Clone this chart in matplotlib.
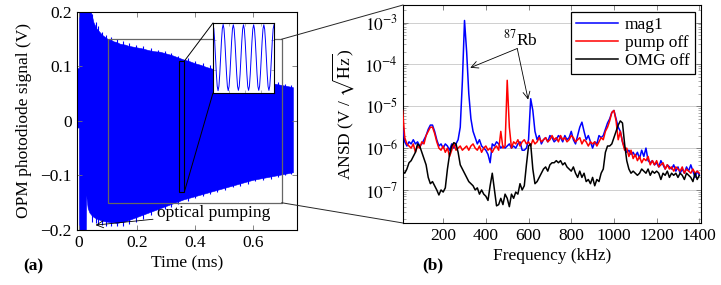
import numpy as np
import matplotlib
matplotlib.use("Agg")
import matplotlib.pyplot as plt
from matplotlib.patches import Rectangle, ConnectionPatch
from matplotlib.ticker import FixedLocator, FixedFormatter, LogLocator, NullFormatter

plt.rcParams['font.family'] = ['Liberation Serif', 'DejaVu Serif']
plt.rcParams['mathtext.fontset'] = 'stix'
plt.rcParams['font.size'] = 12.5

# ── (a) time-domain signal: envelope of the dense oscillation ────────────────
env_t = [-0.008, -0.0005, 0.0, 0.023, 0.0245, 0.03, 0.036, 0.042, 0.05, 0.06,
         0.07, 0.08, 0.09, 0.10, 0.11, 0.12, 0.13, 0.14, 0.15, 0.16,
         0.17, 0.18, 0.19, 0.20, 0.22, 0.24, 0.26, 0.28, 0.30, 0.32,
         0.34, 0.36, 0.38, 0.40, 0.42, 0.44, 0.46, 0.48, 0.50, 0.52,
         0.54, 0.56, 0.58, 0.60, 0.62, 0.64, 0.66, 0.68, 0.70, 0.72, 0.739]
env_hi = [0.097, 0.097, 0.25, 0.25, 0.25, 0.25, 0.25, 0.198, 0.181, 0.170,
          0.164, 0.158, 0.154, 0.150, 0.149, 0.146, 0.145, 0.142, 0.141, 0.140,
          0.138, 0.137, 0.136, 0.135, 0.133, 0.130, 0.128, 0.127, 0.124, 0.121,
          0.117, 0.113, 0.110, 0.106, 0.103, 0.099, 0.096, 0.092, 0.088, 0.086,
          0.083, 0.081, 0.079, 0.077, 0.075, 0.072, 0.070, 0.068, 0.066, 0.064, 0.062]
env_lo = [-0.012, -0.012, -0.25, -0.25, -0.136, -0.160, -0.168, -0.172, -0.176, -0.179,
          -0.181, -0.183, -0.184, -0.185, -0.186, -0.186, -0.187, -0.186, -0.185, -0.184,
          -0.182, -0.180, -0.178, -0.176, -0.172, -0.168, -0.164, -0.160, -0.156, -0.152,
          -0.148, -0.144, -0.141, -0.138, -0.135, -0.132, -0.129, -0.126, -0.123, -0.120,
          -0.117, -0.114, -0.111, -0.108, -0.106, -0.104, -0.102, -0.100, -0.098, -0.096, -0.094]

# ragged fringe on both edges (single oscillation peaks poking out)
spike_t = [0.045, 0.058, 0.066, 0.079, 0.094, 0.112, 0.131, 0.152, 0.174, 0.196,
           0.221, 0.248, 0.272, 0.297, 0.318, 0.343, 0.376, 0.402, 0.428, 0.453,
           0.478, 0.505, 0.531, 0.557, 0.583, 0.609, 0.636, 0.662, 0.687, 0.712, 0.733]
spike_hi = [0.196, 0.182, 0.174, 0.164, 0.158, 0.154, 0.150, 0.146, 0.143, 0.140,
            0.137, 0.134, 0.131, 0.128, 0.125, 0.120, 0.115, 0.110, 0.106, 0.102,
            0.097, 0.093, 0.089, 0.086, 0.083, 0.080, 0.077, 0.074, 0.071, 0.068, 0.066]
spike_lo = [-0.185, -0.188, -0.190, -0.191, -0.192, -0.193, -0.193, -0.192, -0.189, -0.185,
            -0.179, -0.173, -0.167, -0.161, -0.157, -0.152, -0.146, -0.142, -0.138, -0.134,
            -0.130, -0.126, -0.122, -0.119, -0.115, -0.111, -0.108, -0.106, -0.103, -0.100, -0.098]

# zoomed inset (0.345 .. 0.364 ms), six periods, samples
inset_sig = [0.105, 0.090, 0.048, -0.009, -0.065, -0.107, -0.122, -0.107, -0.065, -0.009, 0.048, 0.090,
             0.105, 0.090, 0.048, -0.009, -0.065, -0.107, -0.122, -0.107, -0.065, -0.009, 0.048, 0.090,
             0.104, 0.089, 0.047, -0.009, -0.065, -0.107, -0.121, -0.107, -0.065, -0.009, 0.047, 0.089,
             0.104, 0.089, 0.047, -0.009, -0.065, -0.107, -0.121, -0.107, -0.065, -0.009, 0.047, 0.089,
             0.104, 0.089, 0.047, -0.009, -0.065, -0.107, -0.121, -0.107, -0.065, -0.009, 0.047, 0.089,
             0.104, 0.089, 0.047, -0.009, -0.065, -0.107, -0.121, -0.107, -0.065, -0.009, 0.047, 0.089,
             0.104]

# ── (b) spectra, log10(ANSD) on a 10 kHz grid ────────────────────────────────
freq = np.arange(10, 1401, 10)
log_mag1 = [
    -5.5, -5.85, -5.95, -5.85, -5.9, -5.8, -5.9, -5.85, -5.95, -5.9,
    -5.8, -5.7, -5.55, -5.45, -5.45, -5.6, -5.8, -5.95, -5.9, -6.0,
    -5.9, -5.95, -6.05, -5.9, -6.0, -5.9, -5.8, -5.5, -4.4, -2.95,
    -3.7, -4.7, -5.3, -5.6, -5.75, -5.9, -5.8, -5.95, -6.0, -6.05,
    -6.15, -6.35, -5.9, -5.95, -5.85, -5.9, -6.0, -5.95, -6.0, -5.95,
    -5.9, -6.0, -5.95, -6.0, -5.9, -5.85, -6.05, -6.05, -6.0, -5.8,
    -4.82, -5.1, -5.6, -5.8, -5.7, -5.9, -5.8, -5.75, -5.85, -5.7,
    -5.75, -5.85, -5.8, -5.7, -5.75, -5.85, -5.7, -5.8, -5.75, -5.6,
    -5.8, -5.9, -5.7, -5.5, -5.38, -5.6, -5.8, -5.7, -5.85, -6.0,
    -5.85, -5.9, -5.7, -5.75, -5.7, -5.55, -5.4, -5.3, -5.15, -5.1,
    -5.3, -5.5, -5.6, -5.85, -6.0, -6.1, -6.05, -6.15, -6.1, -6.2,
    -6.1, -6.25, -6.05, -6.2, -6.0, -6.3, -6.35, -6.3, -6.4, -6.35,
    -6.45, -6.3, -6.4, -6.5, -6.4, -6.45, -6.5, -6.4, -6.55, -6.45,
    -6.6, -6.5, -6.6, -6.45, -6.55, -6.4, -6.55, -6.7, -6.55, -6.65]
log_pump_off = [
    -5.1, -5.75, -5.9, -5.95, -6.0, -5.9, -6.1, -5.95, -6.0, -5.85,
    -5.9, -5.7, -5.6, -5.5, -5.5, -5.65, -5.85, -6.0, -6.05, -5.95,
    -6.1, -6.0, -6.2, -6.05, -5.9, -6.05, -6.0, -5.95, -6.05, -6.0,
    -5.95, -6.05, -5.95, -5.9, -6.0, -6.05, -5.95, -6.1, -6.0, -5.95,
    -6.05, -6.0, -6.1, -6.0, -5.95, -6.05, -5.6, -6.0, -5.95, -4.38,
    -5.5, -6.0, -5.85, -5.9, -5.8, -5.95, -5.85, -5.8, -5.9, -5.85,
    -5.95, -5.8, -5.9, -5.85, -5.75, -5.85, -5.8, -5.75, -5.85, -5.8,
    -5.7, -5.8, -5.75, -5.85, -5.7, -5.8, -5.75, -5.85, -5.8, -5.7,
    -5.75, -5.85, -5.8, -5.75, -5.9, -5.8, -5.85, -5.95, -5.85, -5.9,
    -5.85, -5.95, -5.85, -5.75, -5.8, -5.6, -5.5, -5.35, -5.15, -5.1,
    -5.35, -5.8, -5.6, -5.85, -6.05, -6.0, -6.2, -6.05, -6.25, -6.15,
    -6.3, -6.2, -6.35, -6.25, -6.3, -6.2, -6.4, -6.3, -6.4, -6.3,
    -6.45, -6.4, -6.35, -6.5, -6.4, -6.5, -6.45, -6.55, -6.45, -6.5,
    -6.55, -6.45, -6.6, -6.5, -6.55, -6.6, -6.5, -6.6, -6.55, -6.6]
log_omg_off = [
    -6.55, -6.6, -6.5, -6.35, -6.3, -6.2, -6.1, -5.9, -5.95, -6.1,
    -6.25, -6.4, -6.7, -6.85, -6.8, -6.9, -7.0, -7.12, -7.0, -7.05,
    -6.95, -6.5, -6.15, -5.95, -5.87, -5.9, -6.1, -6.4, -6.5, -6.6,
    -6.7, -6.8, -6.85, -6.9, -7.0, -6.95, -7.1, -7.0, -7.1, -7.15,
    -7.25, -6.9, -6.6, -7.0, -7.38, -7.35, -7.2, -7.35, -7.1, -7.2,
    -7.4, -7.1, -7.2, -7.05, -7.1, -6.85, -7.0, -6.9, -6.4, -5.95,
    -5.9, -6.5, -6.85, -6.8, -6.7, -6.6, -6.5, -6.45, -6.55, -6.4,
    -6.35, -6.35, -6.3, -6.35, -6.3, -6.4, -6.35, -6.45, -6.5, -6.55,
    -6.45, -6.6, -6.7, -6.55, -6.7, -6.6, -6.8, -6.75, -6.85, -6.7,
    -6.9, -6.75, -6.8, -6.6, -6.5, -6.1, -5.95, -5.95, -5.9, -5.75,
    -5.6, -5.45, -5.35, -5.4, -5.9, -6.3, -6.5, -6.6, -6.55, -6.6,
    -6.65, -6.6, -6.5, -6.55, -6.6, -6.5, -6.65, -6.55, -6.6, -6.55,
    -6.6, -6.75, -6.6, -6.65, -6.55, -6.7, -6.6, -6.65, -6.6, -6.7,
    -6.6, -6.65, -6.75, -6.6, -6.65, -6.7, -6.8, -6.6, -6.75, -6.65]

series = [("mag1", log_mag1, "#0000ff"),
          ("pump off", log_pump_off, "#ff0000"),
          ("OMG off", log_omg_off, "black")]

t_ticks = [0, 0.2, 0.4, 0.6]
t_labels = ["0", "0.2", "0.4", "0.6"]
v_ticks = [-0.2, -0.1, 0, 0.1, 0.2]
v_labels = ["\u22120.2", "\u22120.1", "0", "0.1", "0.2"]
f_ticks = [200, 400, 600, 800, 1000, 1200, 1400]
a_ticks = [1e-7, 1e-6, 1e-5, 1e-4, 1e-3]
a_labels = [r"$10^{-7}$", r"$10^{-6}$", r"$10^{-5}$", r"$10^{-4}$", r"$10^{-3}$"]

TICK = dict(direction="in", top=True, right=True, color="0.45",
            length=3.5, width=0.6, labelsize=12.5, labelcolor="black")

fig = plt.figure(figsize=(7.21, 2.85), dpi=100)
ax1 = fig.add_axes([0.1064, 0.193, 0.3055, 0.765])
ax2 = fig.add_axes([0.559, 0.2175, 0.4133, 0.765])
ax_in = fig.add_axes([0.2954, 0.6737, 0.0846, 0.2456])

# ── panel (a) ─────────────────────────────────────────────────────────────────
ax1.fill_between(env_t, env_lo, env_hi, color="#0000ff", lw=0.4, zorder=1)
ax1.vlines(spike_t, spike_lo, spike_hi, color="#0000ff", lw=0.8, zorder=1)
ax1.set_xlim(-0.008, 0.753)
ax1.set_ylim(-0.2, 0.2)
ax1.xaxis.set_major_locator(FixedLocator(t_ticks))
ax1.xaxis.set_major_formatter(FixedFormatter(t_labels))
ax1.yaxis.set_major_locator(FixedLocator(v_ticks))
ax1.yaxis.set_major_formatter(FixedFormatter(v_labels))
ax1.tick_params(**TICK)
ax1.set_xlabel("Time (ms)", labelpad=3)
ax1.set_ylabel("OPM photodiode signal (V)", labelpad=6)

ax1.add_patch(Rectangle((0.1, -0.15), 0.6, 0.3, fill=False, ec="0.4", lw=0.9, zorder=3))
ax1.add_patch(Rectangle((0.345, -0.13), 0.019, 0.24, fill=False, ec="black", lw=0.8, zorder=3))

ax1.annotate("optical pumping", xy=(0.057, -0.191), xytext=(0.27, -0.169),
             ha="left", va="center", fontsize=12.5,
             arrowprops=dict(arrowstyle="->", lw=0.6, color="black",
                             shrinkA=1, shrinkB=0))

# inset
ax_in.plot(np.linspace(0.345, 0.364, len(inset_sig)), inset_sig,
           color="#0000ff", lw=0.7)
ax_in.set_xlim(0.345, 0.364)
ax_in.set_ylim(-0.13, 0.11)
ax_in.set_xticks([0.35, 0.355, 0.36])
ax_in.set_yticks([-0.05, 0.05])
ax_in.tick_params(direction="in", top=True, right=True, color="0.6",
                  length=2, width=0.5, labelbottom=False, labelleft=False)
for s in ax_in.spines.values():
    s.set_linewidth(0.8)

# ── panel (b) ─────────────────────────────────────────────────────────────────
for name, vals, col in series:
    ax2.plot(freq, 10.0 ** np.array(vals), color=col, lw=1.1, label=name, zorder=3)
ax2.set_yscale("log")
ax2.set_xlim(12, 1408)
ax2.set_ylim(10 ** -7.79, 10 ** -2.58)
ax2.xaxis.set_major_locator(FixedLocator(f_ticks))
ax2.yaxis.set_major_locator(FixedLocator(a_ticks))
ax2.yaxis.set_major_formatter(FixedFormatter(a_labels))
ax2.yaxis.set_minor_locator(LogLocator(base=10, subs=np.arange(2, 10), numticks=20))
ax2.yaxis.set_minor_formatter(NullFormatter())
ax2.tick_params(**TICK)
ax2.tick_params(which="minor", direction="in", right=True, color="0.55",
                length=2, width=0.5)
ax2.yaxis.grid(True, which="major", color="0.78", lw=0.6, zorder=0)
ax2.set_axisbelow(True)
ax2.set_xlabel("Frequency (kHz)", labelpad=3)
ax2.set_ylabel(r"ANSD (V / $\sqrt{\mathrm{Hz}}$)", labelpad=6)

leg = ax2.legend(loc="upper right", bbox_to_anchor=(0.98, 0.968), fontsize=12.5,
                 frameon=True, fancybox=False, framealpha=1, edgecolor="black",
                 handlelength=2.4, handletextpad=0.4, labelspacing=0.1,
                 borderpad=0.3, borderaxespad=0)
leg.get_frame().set_linewidth(0.9)

ax2.text(561, 10 ** -3.41, r"$^{87}$Rb", ha="center", va="center", fontsize=12.5)
for tip in [(327, 10 ** -4.08), (598, 10 ** -4.84)]:
    ax2.annotate("", xy=tip, xytext=(547, 10 ** -3.62),
                 arrowprops=dict(arrowstyle="->", lw=0.6, color="black",
                                 shrinkA=0, shrinkB=0))

# ── zoom connectors ──────────────────────────────────────────────────────────
for pa, pb in [((0.7, 0.15), (0, 1)), ((0.7, -0.15), (0, 0))]:
    fig.add_artist(ConnectionPatch(xyA=pa, coordsA=ax1.transData,
                                   xyB=pb, coordsB=ax2.transAxes,
                                   color="0.15", lw=0.7))
for pa, pb in [((0.364, 0.11), (0, 1)), ((0.364, -0.13), (0, 0))]:
    fig.add_artist(ConnectionPatch(xyA=pa, coordsA=ax1.transData,
                                   xyB=pb, coordsB=ax_in.transAxes,
                                   color="black", lw=0.7))

fig.text(33 / 721, 1 - 266 / 285, "(a)", ha="center", va="center",
         fontsize=12.5, fontweight="bold")
fig.text(433 / 721, 1 - 265 / 285, "(b)", ha="center", va="center",
         fontsize=12.5, fontweight="bold")

fig.savefig("out.png", dpi=100)
